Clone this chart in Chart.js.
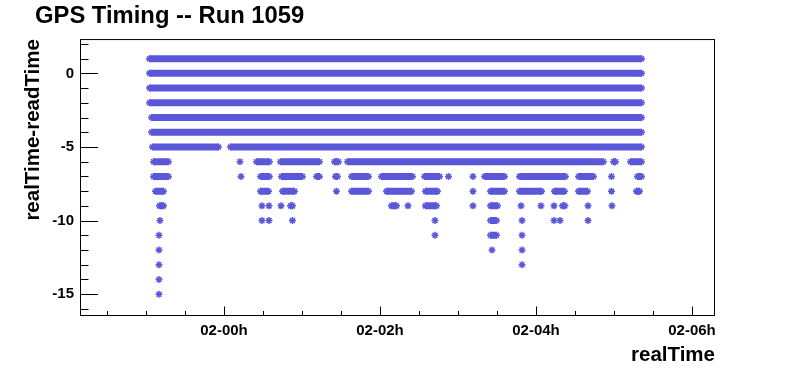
<!DOCTYPE html>
<html lang="en">
<head>
  <meta charset="UTF-8" />
  <title>GPS Timing -- Run 1059</title>
  <script src="https://cdn.jsdelivr.net/npm/chart.js"></script>
  <style>
    body { margin: 0; background: #fff; }
    canvas { display: block; }
  </style>
</head>
<body>
  <canvas id="gpsChart" width="796" height="372"></canvas>

  <script>
    // x is in hours relative to 02-00h (day 02, hour 00)
    const xRange = [-1.846, 6.295];
    const yRange = [-16.48, 2.33];

    // realTime-readTime value of every row
    const offsets = [1, 0, -1, -2, -3, -4, -5, -6, -7, -8, -9, -10, -11, -12, -13, -14, -15];

    // per row: [first, last] realTime of each run of points (single point = same value twice)
    const spans = [
      [[-0.955, 5.353]],
      [[-0.955, 5.353]],
      [[-0.955, 5.353]],
      [[-0.955, 5.353]],
      [[-0.929, 5.353]],
      [[-0.929, 5.353]],
      [[-0.917, -0.071], [0.083, 5.353]],
      [[-0.904, -0.712], [0.205, 0.205], [0.417, 0.583], [0.724, 1.224], [1.417, 1.468],
       [1.583, 4.865], [4.994, 5.019], [5.212, 5.353]],
      [[-0.904, -0.712], [0.218, 0.218], [0.468, 0.583], [0.737, 1.006], [1.186, 1.224],
       [1.429, 1.455], [1.635, 1.853], [2.019, 2.417], [2.571, 2.763], [2.878, 2.878],
       [3.192, 3.192], [3.340, 3.596], [3.788, 4.378], [4.545, 4.737], [4.968, 4.968],
       [5.301, 5.353]],
      [[-0.878, -0.776], [0.468, 0.571], [0.750, 0.904], [1.442, 1.442], [1.635, 1.853],
       [2.083, 2.404], [2.583, 2.737], [3.192, 3.192], [3.417, 3.596], [3.788, 4.071],
       [4.237, 4.365], [4.545, 4.660], [4.968, 4.968], [5.288, 5.327]],
      [[-0.827, -0.776], [0.487, 0.487], [0.577, 0.577], [0.731, 0.731], [0.853, 0.878],
       [2.147, 2.212], [2.359, 2.359], [2.583, 2.724], [3.192, 3.192], [3.417, 3.506],
       [3.808, 3.808], [4.064, 4.064], [4.231, 4.231], [4.340, 4.370], [4.667, 4.667],
       [4.974, 4.974]],
      [[-0.821, -0.821], [0.487, 0.487], [0.577, 0.577], [0.878, 0.878], [2.705, 2.705],
       [3.417, 3.494], [3.821, 3.821], [4.231, 4.231], [4.308, 4.308], [4.667, 4.667]],
      [[-0.833, -0.833], [2.705, 2.705], [3.417, 3.494], [3.821, 3.821]],
      [[-0.833, -0.833], [3.436, 3.436], [3.821, 3.821]],
      [[-0.833, -0.833], [3.821, 3.821]],
      [[-0.833, -0.833]],
      [[-0.833, -0.833]]
    ];

    const markerColor = '#5b57d9';

    Chart.defaults.font.family = "'Liberation Sans', Arial, Helvetica, sans-serif";
    Chart.defaults.color = '#000';

    // runs become thick line pieces, broken by null points
    const points = [];
    offsets.forEach((off, i) => {
      spans[i].forEach(([a, b]) => {
        points.push({ x: a, y: off });
        if (b !== a) points.push({ x: b, y: off });
        points.push({ x: b, y: null });
      });
    });

    function timeLabel(v) {
      const day = 2 + Math.floor(v / 24);
      const hour = ((v % 24) + 24) % 24;
      return String(day).padStart(2, '0') + '-' + String(hour).padStart(2, '0') + 'h';
    }

    // ROOT style frame with inward ticks
    const frameAndTicks = {
      id: 'frameAndTicks',
      afterDraw(chart) {
        const { ctx, chartArea: a, scales: { x, y } } = chart;
        ctx.save();
        ctx.strokeStyle = '#000';
        ctx.lineWidth = 1;
        ctx.beginPath();
        for (let v = Math.ceil(y.min); v <= y.max; v++) {
          const py = Math.round(y.getPixelForValue(v)) + 0.5;
          const len = v % 5 === 0 ? 18 : 8.5;
          ctx.moveTo(a.left, py);
          ctx.lineTo(a.left + len, py);
        }
        for (let v = Math.ceil(x.min * 2) / 2; v <= x.max; v += 0.5) {
          const px = Math.round(x.getPixelForValue(v)) + 0.5;
          const len = v % 2 === 0 ? 9.5 : 5;
          ctx.moveTo(px, a.bottom);
          ctx.lineTo(px, a.bottom - len);
        }
        ctx.stroke();
        ctx.strokeRect(a.left + 0.5, a.top + 0.5, a.right - a.left - 1, a.bottom - a.top - 1);
        ctx.restore();
      }
    };

    new Chart(document.getElementById('gpsChart'), {
      type: 'line',
      data: {
        datasets: [{
          data: points,
          borderColor: markerColor,
          backgroundColor: markerColor,
          borderWidth: 7,
          borderCapStyle: 'butt',
          pointStyle: 'star',
          pointRadius: 3.5,
          pointBorderWidth: 1.5,
          pointBorderColor: markerColor,
          pointBackgroundColor: markerColor,
          spanGaps: false,
          tension: 0
        }]
      },
      options: {
        responsive: false,
        animation: false,
        devicePixelRatio: 1,
        layout: { padding: { left: 35, right: 81, top: 0, bottom: 0 } },
        plugins: {
          legend: { display: false },
          tooltip: { enabled: false },
          title: {
            display: true,
            text: 'GPS Timing -- Run 1059',
            align: 'start',
            color: '#000',
            font: { size: 23.8, weight: 'bold' },
            padding: { top: 2, bottom: 8.5 }
          }
        },
        scales: {
          x: {
            type: 'linear',
            min: xRange[0],
            max: xRange[1],
            grid: { display: false, drawTicks: false },
            border: { display: false },
            ticks: {
              stepSize: 2,
              includeBounds: false,
              maxRotation: 0,
              padding: 6,
              font: { size: 15, weight: 'bold' },
              callback: v => timeLabel(v)
            },
            title: {
              display: true,
              text: 'realTime',
              align: 'end',
              font: { size: 20.5, weight: 'bold' },
              padding: { top: 0, bottom: 4 }
            },
            afterFit(s) { s.height = 56; }
          },
          y: {
            type: 'linear',
            min: yRange[0],
            max: yRange[1],
            grid: { display: false, drawTicks: false },
            border: { display: false },
            ticks: {
              stepSize: 5,
              includeBounds: false,
              padding: 6,
              font: { size: 15, weight: 'bold' }
            },
            title: {
              display: true,
              text: 'realTime-readTime',
              align: 'end',
              font: { size: 20.5, weight: 'bold' },
              padding: { top: -13.8, bottom: 0 }
            },
            afterFit(s) { s.width = 45; }
          }
        }
      },
      plugins: [frameAndTicks]
    });
  </script>
</body>
</html>
